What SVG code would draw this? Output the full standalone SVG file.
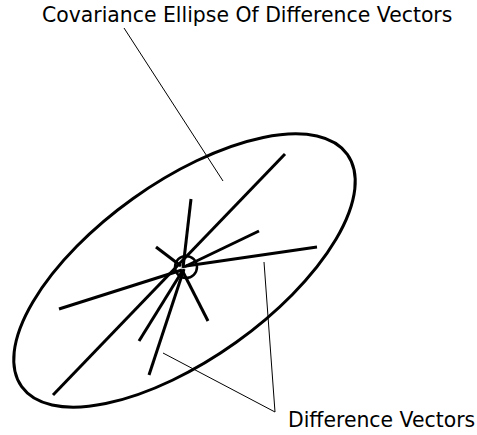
<svg xmlns="http://www.w3.org/2000/svg" width="477" height="435" viewBox="0 0 477 435">
<style>
.lbl{font-family:"DejaVu Sans",sans-serif;font-size:20.4px;fill:#000}
.thick{stroke:#000;stroke-width:3;fill:none}
.thin{stroke:#000;stroke-width:1;fill:none}
</style>
<rect width="477" height="435" fill="#fff"/>
<g id="ellipse">
<ellipse cx="184.5" cy="270.5" rx="200" ry="88.5" transform="rotate(-35.5 184.5 270.5)" class="thick"/>
</g>
<g id="vectors">
<line x1="53" y1="395" x2="285" y2="154" class="thick"/>
<line x1="183" y1="268" x2="191" y2="199" class="thick"/>
<line x1="184" y1="267" x2="259" y2="231" class="thick"/>
<line x1="186" y1="266" x2="317" y2="247" class="thick"/>
<line x1="156" y1="247" x2="181" y2="266" class="thick"/>
<line x1="182" y1="270" x2="208" y2="321" class="thick"/>
<line x1="59" y1="309" x2="182" y2="270" class="thick"/>
<line x1="139" y1="341" x2="183" y2="270" class="thick"/>
<line x1="149" y1="375" x2="184" y2="269" class="thick"/>
</g>
<g id="center">
<circle cx="186" cy="267" r="11" stroke="#000" stroke-width="2.5" fill="none"/>
</g>
<g id="connectors">
<line x1="124" y1="28" x2="223" y2="181" class="thin"/>
<polyline points="163,353 275,412 264,262" class="thin"/>
</g>
<g id="title">
<text x="42" y="22" class="lbl">Covariance Ellipse Of Difference Vectors</text>
</g>
<g id="label">
<text x="288" y="427" class="lbl">Difference Vectors</text>
</g>
</svg>
